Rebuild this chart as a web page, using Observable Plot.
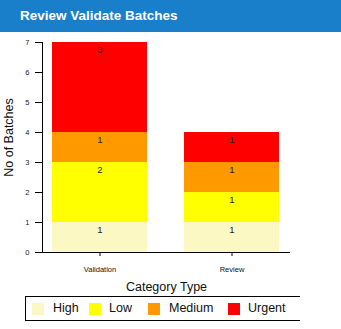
<!DOCTYPE html>
<html><head><meta charset="utf-8">
<script src="https://cdn.jsdelivr.net/npm/d3@7"></script>
<script src="https://cdn.jsdelivr.net/npm/@observablehq/plot@0.6"></script>
<style>
body{margin:0;background:#fff;font-family:"Liberation Sans",Arial,sans-serif;}
#hdr{height:32px;background:#1a7fcb;color:#fff;font-weight:bold;font-size:13.5px;line-height:32px;padding-left:20px;box-sizing:border-box;}
#legend{position:absolute;left:25px;top:296px;width:275px;height:25px;box-sizing:border-box;border-top:1px solid #000;border-bottom:1px solid #000;border-left:1px solid #000;}
.sw{position:absolute;top:6px;width:12px;height:12px;}
.lb{position:absolute;top:4px;font-size:12.5px;color:#111;}
</style></head><body>
<div id="hdr">Review Validate Batches</div>
<div id="chart"></div>
<div id="legend"></div>
<script>
const categories = ["Validation", "Review"];
const priorities = ["High", "Low", "Medium", "Urgent"];
const colors = ["#fbf8c4", "#ffff00", "#ff9900", "#ff0000"];
const validationCounts = [1, 2, 1, 3];
const reviewCounts = [1, 1, 1, 1];
const yTicks = [0, 1, 2, 3, 4, 5, 6, 7];

const data = [];
priorities.forEach((p, i) => {
  data.push({cat: "Validation", pri: p, n: validationCounts[i]});
  data.push({cat: "Review", pri: p, n: reviewCounts[i]});
});

const plot = Plot.plot({
  width: 341,
  height: 264,
  marginTop: 10,
  marginBottom: 44,
  marginLeft: 42,
  marginRight: 51,
  style: {fontFamily: "Liberation Sans, Arial, sans-serif", color: "#222", background: "transparent"},
  x: {domain: categories, range: [51, 280], paddingInner: 0.278, paddingOuter: 0},
  y: {domain: [0, 7]},
  color: {domain: priorities, range: colors},
  marks: [
    Plot.barY(data, {x: "cat", y: "n", fill: "pri", order: priorities}),
    Plot.text(data, Plot.stackY2({x: "cat", y: "n", z: "pri", order: priorities, text: "n", dy: 7, fontSize: 9.5, fill: "#222"})),
    Plot.ruleY([0], {stroke: "#000"}),
    Plot.frame({anchor: "left", stroke: "#000"}),
    Plot.axisY(yTicks, {tickSize: 7, tickPadding: 6, fontSize: 7.5, label: null, stroke: "#000", fill: "#222"}),
    Plot.axisX({tickSize: 4, tickPadding: 10, fontSize: 7.5, label: null, stroke: "#000", fill: "#111"}),
    Plot.text(["Category Type"], {frameAnchor: "bottom", lineAnchor: "middle", dy: 34, fontSize: 12.5, fill: "#111"}),
    Plot.text(["No of Batches"], {frameAnchor: "left", textAnchor: "middle", lineAnchor: "middle", dx: -34, dy: -10, rotate: -90, fontSize: 12.5, fill: "#111"})
  ]
});
document.getElementById("chart").appendChild(plot);

const leg = document.getElementById("legend");
const swX = [6, 63, 122, 202];
const lbX = [27, 83, 143, 222];
priorities.forEach((p, i) => {
  const s = document.createElement("div");
  s.className = "sw"; s.style.left = swX[i] + "px"; s.style.background = colors[i];
  leg.appendChild(s);
  const t = document.createElement("div");
  t.className = "lb"; t.style.left = lbX[i] + "px"; t.textContent = p;
  leg.appendChild(t);
});
</script>
</body></html>
